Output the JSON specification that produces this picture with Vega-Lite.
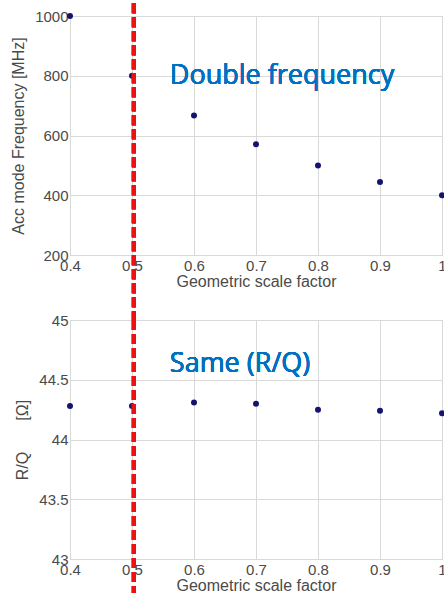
{
  "$schema": "https://vega.github.io/schema/vega-lite/v6.json",
  "padding": {"left": 10, "top": 0, "right": 0, "bottom": 0},
  "background": "white",
  "data": {
    "values": [
      {"scale": 0.4, "freq": 1000, "rq": 44.28},
      {"scale": 0.5, "freq": 800, "rq": 44.28},
      {"scale": 0.6, "freq": 667, "rq": 44.31},
      {"scale": 0.7, "freq": 571, "rq": 44.30},
      {"scale": 0.8, "freq": 500, "rq": 44.25},
      {"scale": 0.9, "freq": 444, "rq": 44.24},
      {"scale": 1.0, "freq": 400, "rq": 44.22}
    ]
  },
  "spacing": 65,
  "bounds": "flush",
  "config": {
    "font": "Liberation Sans",
    "view": {"stroke": "#b4b4b4", "strokeWidth": 1},
    "axis": {
      "grid": true,
      "gridColor": "#d9d9d9",
      "domain": false,
      "ticks": false,
      "labelFont": "Liberation Sans",
      "labelFontSize": 15,
      "labelColor": "#4a4a4a",
      "titleFont": "Liberation Sans",
      "titleFontSize": 16,
      "titleFontWeight": "normal",
      "titleColor": "#4a4a4a"
    },
    "axisX": {"labelFlush": false, "labelPadding": 3, "titlePadding": 0},
    "axisY": {"labelPadding": 2, "titlePadding": 8}
  },
  "vconcat": [
    {
      "width": 372,
      "height": 239,
      "layer": [
        {
          "mark": {"type": "point", "filled": true, "size": 36, "color": "#14146e", "opacity": 1},
          "encoding": {
            "x": {"field": "scale", "type": "quantitative", "scale": {"domain": [0.4, 1], "nice": false, "zero": false}, "axis": {"title": "Geometric scale factor", "values": [0.4, 0.5, 0.6, 0.7, 0.8, 0.9, 1], "format": "~g"}},
            "y": {"field": "freq", "type": "quantitative", "scale": {"domain": [200, 1000], "nice": false, "zero": false}, "axis": {"title": "Acc mode Frequency [MHz]", "values": [200, 400, 600, 800, 1000], "format": "d"}}
          }
        },
        {
          "mark": {"type": "rule", "color": "#ee1111", "strokeWidth": 4, "strokeDash": [10, 4]},
          "encoding": {"x": {"datum": 0.503}, "y": {"datum": 1043}, "y2": {"datum": -20}}
        },
        {
          "mark": {"type": "text", "text": "Double frequency", "align": "left", "baseline": "alphabetic", "font": "Open Sans", "fontWeight": "normal", "fontSize": 27, "color": "#0070c0"},
          "encoding": {"x": {"datum": 0.561}, "y": {"datum": 772}}
        }
      ]
    },
    {
      "width": 372,
      "height": 239,
      "layer": [
        {
          "mark": {"type": "point", "filled": true, "size": 36, "color": "#14146e", "opacity": 1},
          "encoding": {
            "x": {"field": "scale", "type": "quantitative", "scale": {"domain": [0.4, 1], "nice": false, "zero": false}, "axis": {"title": "Geometric scale factor", "values": [0.4, 0.5, 0.6, 0.7, 0.8, 0.9, 1], "format": "~g"}},
            "y": {"field": "rq", "type": "quantitative", "scale": {"domain": [43, 45], "nice": false, "zero": false}, "axis": {"title": "R/Q\u00a0\u00a0\u00a0\u00a0\u00a0\u00a0\u00a0[Ω]", "values": [43, 43.5, 44, 44.5, 45], "format": "~g"}}
          }
        },
        {
          "mark": {"type": "rule", "color": "#ee1111", "strokeWidth": 4, "strokeDash": [10, 4]},
          "encoding": {"x": {"datum": 0.503}, "y": {"datum": 45}, "y2": {"datum": 42.6}}
        },
        {
          "mark": {"type": "text", "text": "Same (R/Q)", "align": "left", "baseline": "alphabetic", "font": "Open Sans", "fontWeight": "normal", "fontSize": 27, "color": "#0070c0"},
          "encoding": {"x": {"datum": 0.561}, "y": {"datum": 44.565}}
        }
      ]
    }
  ]
}
